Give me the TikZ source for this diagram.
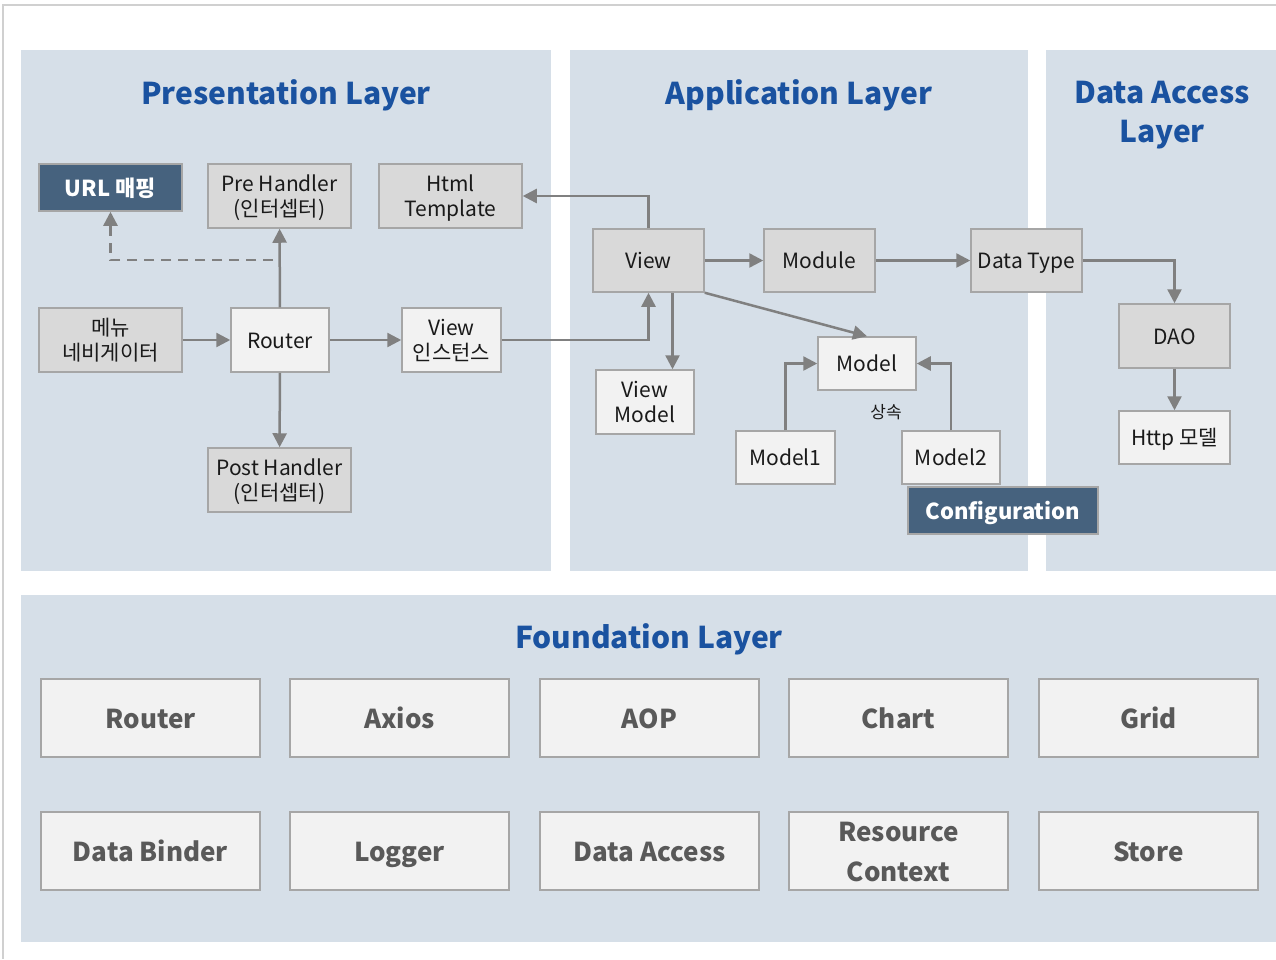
\documentclass[tikz,border=0pt]{standalone}
\usepackage{fontspec}
\setmainfont{Noto Sans CJK KR}
\usetikzlibrary{arrows.meta}
\definecolor{panelc}{HTML}{D6DFE8}
\definecolor{framec}{HTML}{D0D0D0}
\definecolor{gfill}{HTML}{D9D9D9}
\definecolor{lfill}{HTML}{F2F2F2}
\definecolor{dfill}{HTML}{46627E}
\definecolor{bordc}{HTML}{A6A6A6}
\definecolor{arrc}{HTML}{808080}
\definecolor{titlec}{HTML}{1A52A0}
\definecolor{txtc}{HTML}{1A1A1A}
\definecolor{ftxt}{HTML}{595959}
\tikzset{
  box/.style={draw=bordc, line width=1.5pt, inner sep=0pt, align=center, text=txtc,
    font=\fontsize{21}{25}\selectfont},
  one/.style={text height=20pt, text depth=4pt},
  two/.style={text height=45pt, text depth=4pt},
  gbox/.style={box, fill=gfill},
  lbox/.style={box, fill=lfill},
  dbox/.style={box, fill=dfill, text=white, draw=bordc, font=\bfseries\fontsize{22}{26}\selectfont,
    text height=21pt, text depth=4pt},
  fbox/.style={box, fill=lfill, text=ftxt, minimum width=219pt, minimum height=78pt,
    font=\bfseries\fontsize{26}{40}\selectfont},
  fone/.style={fbox, text height=26pt, text depth=5pt},
  ftwo/.style={fbox, text height=66pt, text depth=5pt},
  title/.style={text=titlec, align=center, font=\bfseries\fontsize{30}{39}\selectfont},
  conn/.style={draw=arrc, line width=2.5pt, -{Triangle[length=14pt,width=14pt]}},
}
\begin{document}
\begin{tikzpicture}[x=1pt,y=-1pt]
\useasboundingbox (0,0) rectangle (1276,959);
\fill[white] (0,0) rectangle (1276,959);
\draw[framec, line width=1.5pt] (1276,5) -- (3,5) -- (3,959);
% panels
\fill[panelc] (21,50) rectangle (551,571);
\fill[panelc] (570,50) rectangle (1028,571);
\fill[panelc] (1046,50) rectangle (1276,571);
\fill[panelc] (21,595) rectangle (1276,942);
% titles
\node[title] (tpres) at (286,95) {Presentation Layer};
\node[title] (tapp) at (799,95) {Application Layer};
\node[title] (tdata) at (1162,115) {Data Access\\Layer};
\node[title] (tfound) at (649,639) {Foundation Layer};
% presentation nodes
\node[dbox, minimum width=143pt, minimum height=47pt] (url) at (110.5,187.5) {URL 매핑};
\node[gbox, two, minimum width=143pt, minimum height=64pt] (pre) at (279.5,196) {Pre Handler\\(인터셉터)};
\node[gbox, two, minimum width=143pt, minimum height=64pt] (html) at (450.5,196) {Html\\Template};
\node[gbox, two, minimum width=143pt, minimum height=64pt] (menu) at (110.5,340) {메뉴\\네비게이터};
\node[lbox, one, minimum width=98pt, minimum height=64pt] (router) at (280,340) {Router};
\node[lbox, two, minimum width=99pt, minimum height=64pt] (vinst) at (451.5,340) {View\\인스턴스};
\node[gbox, two, minimum width=143pt, minimum height=64pt] (post) at (279.5,480) {Post Handler\\(인터셉터)};
% application nodes
\node[gbox, one, minimum width=111pt, minimum height=63pt] (view) at (648.5,260.5) {View};
\node[gbox, one, minimum width=111pt, minimum height=63pt] (module) at (819.5,260.5) {Module};
\node[gbox, one, minimum width=111pt, minimum height=63pt] (dtype) at (1026.5,260.5) {Data Type};
\node[lbox, two, minimum width=98pt, minimum height=64pt] (vm) at (645,402) {View\\Model};
\node[lbox, one, minimum width=98pt, minimum height=53pt] (model) at (867,363.5) {Model};
\node[font=\fontsize{17}{20}\selectfont, text=txtc] (inh) at (886,412) {상속};
\node[lbox, one, minimum width=99pt, minimum height=53pt] (m1) at (785.5,457.5) {Model1};
\node[lbox, one, minimum width=98pt, minimum height=53pt] (m2) at (951,457.5) {Model2};
\node[dbox, minimum width=190pt, minimum height=47pt] (conf) at (1003,510.5) {Configuration};
% data access nodes
\node[gbox, one, minimum width=111pt, minimum height=64pt] (dao) at (1174.5,336) {DAO};
\node[lbox, one, minimum width=111pt, minimum height=53pt] (http) at (1174.5,437.5) {Http 모델};
% connectors
\draw[conn] (menu) -- (router);
\draw[conn] (router) -- (vinst);
\draw[conn] (router) -- (pre);
\draw[conn] (router) -- (post);
\coordinate (dj) at (273,260);
\draw[conn, dashed, dash pattern=on 10pt off 7pt] (dj) -- (dj -| url) -- (url);
\draw[conn] (vinst.east) -| (view);
\draw[conn] (view.north) |- (html.east);
\draw[conn] (view) -- (module);
\draw[conn] (module) -- (dtype);
\draw[conn] (dtype.east) -| (dao.north);
\draw[conn] (dao) -- (http);
\draw[conn] ([xshift=24pt]view.south) -- ([xshift=24pt]view.south |- vm.north);
\draw[conn] (view.south east) -- (model.north);
\draw[conn] (m1.north) |- (model.west);
\draw[conn] (m2.north) |- (model.east);
% foundation
\node[fone] (f1) at (150.5,718) {Router};
\node[fone] (f2) at (399.5,718) {Axios};
\node[fone] (f3) at (649.5,718) {AOP};
\node[fone] (f4) at (898.5,718) {Chart};
\node[fone] (f5) at (1148.5,718) {Grid};
\node[fone] (f6) at (150.5,851) {Data Binder};
\node[fone] (f7) at (399.5,851) {Logger};
\node[fone] (f8) at (649.5,851) {Data Access};
\node[ftwo] (f9) at (898.5,851) {Resource\\Context};
\node[fone] (f10) at (1148.5,851) {Store};
\end{tikzpicture}
\end{document}
